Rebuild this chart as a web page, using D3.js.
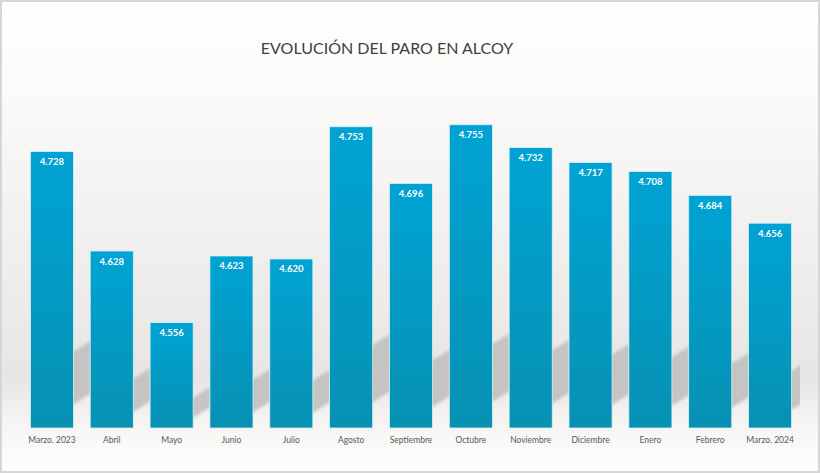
<!DOCTYPE html>
<html>
<head>
<meta charset="utf-8">
<script src="https://cdn.jsdelivr.net/npm/d3@7"></script>
<style>
  body { margin: 0; background: #fff; }
  svg { display: block; }
</style>
</head>
<body>
<div id="chart"></div>
<script>
// datos del paro en Alcoy
var months = ["Marzo. 2023", "Abril", "Mayo", "Junio", "Julio", "Agosto", "Septiembre",
  "Octubre", "Noviembre", "Diciembre", "Enero", "Febrero", "Marzo. 2024"];
var parados = [4728, 4628, 4556, 4623, 4620, 4753, 4696, 4755, 4732, 4717, 4708, 4684, 4656];
var yDomain = [4450, 4800];
var title = "EVOLUCIÓN DEL PARO EN ALCOY";

var width = 820;
var height = 473;
var base = 428;

var es = d3.formatLocale({ decimal: ",", thousands: ".", grouping: [3], currency: ["", "€"] });
var fmt = es.format(",d");

var svg = d3.select("#chart")
  .append("svg")
  .attr("width", width)
  .attr("height", height);

var defs = svg.append("defs");

// fondo
var bg = defs.append("linearGradient")
  .attr("id", "bg")
  .attr("x1", 0).attr("y1", 0).attr("x2", 0).attr("y2", 1);
bg.append("stop").attr("offset", "0%").attr("stop-color", "#ffffff");
bg.append("stop").attr("offset", "20%").attr("stop-color", "#fbfaf9");
bg.append("stop").attr("offset", "80%").attr("stop-color", "#e8e6e4");
bg.append("stop").attr("offset", "90%").attr("stop-color", "#f6f5f4");
bg.append("stop").attr("offset", "100%").attr("stop-color", "#fefefe");

var barGrad = defs.append("linearGradient")
  .attr("id", "barGrad")
  .attr("x1", 0).attr("y1", 0).attr("x2", 0).attr("y2", 1);
barGrad.append("stop").attr("offset", "0%").attr("stop-color", "#00a3d4");
barGrad.append("stop").attr("offset", "100%").attr("stop-color", "#0791b3");

var blur = defs.append("filter").attr("id", "blur")
  .attr("x", "-50%").attr("y", "-50%").attr("width", "200%").attr("height", "200%");
blur.append("feGaussianBlur").attr("stdDeviation", 1.6);

defs.append("clipPath").attr("id", "floor")
  .append("rect")
  .attr("x", 0).attr("y", 0)
  .attr("width", 800).attr("height", base);

svg.append("rect")
  .attr("x", 1).attr("y", 1)
  .attr("width", width - 2).attr("height", height - 2)
  .attr("fill", "url(#bg)")
  .attr("stroke", "#d6d6d6")
  .attr("stroke-width", 2);

var x = d3.scaleBand()
  .domain(months)
  .range([22, 800])
  .paddingInner(0.28)
  .paddingOuter(0.14);

var y = d3.scaleLinear()
  .domain(yDomain)
  .range([base, 80]);

var data = months.map(function(m, i) {
  return { name: m, value: parados[i] };
});

// sombras detras de las barras (banda inclinada en el hueco de la derecha)
svg.append("g")
  .attr("clip-path", "url(#floor)")
  .append("g")
  .attr("filter", "url(#blur)")
  .selectAll("path")
  .data(data)
  .enter()
  .append("path")
  .attr("fill", "#c6c4c2")
  .attr("d", function(d) {
    var x0 = x(d.name) + x.bandwidth() - 3;
    var h = base - y(d.value);
    var bot = base - 0.08 * h;
    var top = base - 0.27 * h;
    var sw = 21, rise = 13;
    return "M" + x0 + "," + bot +
      "L" + (x0 + sw) + "," + (bot - rise) +
      "L" + (x0 + sw) + "," + (top - rise) +
      "L" + x0 + "," + top + "Z";
  });

svg.append("g")
  .selectAll("rect")
  .data(data)
  .enter()
  .append("rect")
  .attr("x", d => x(d.name))
  .attr("y", d => y(d.value))
  .attr("width", x.bandwidth())
  .attr("height", d => base - y(d.value))
  .attr("fill", "url(#barGrad)")
  .attr("stroke", "#d9f1f8")
  .attr("stroke-width", 0.8);

// valores
svg.append("g")
  .selectAll("text")
  .data(data)
  .enter()
  .append("text")
  .attr("x", d => x(d.name) + x.bandwidth() / 2)
  .attr("y", d => y(d.value) + 13.5)
  .attr("text-anchor", "middle")
  .attr("fill", "#ffffff")
  .style("font-family", "Lato, 'DejaVu Sans', sans-serif")
  .style("font-weight", "bold")
  .style("font-size", "9.5px")
  .text(d => fmt(d.value));

// meses
var xAxis = svg.append("g")
  .attr("transform", "translate(0," + base + ")")
  .call(d3.axisBottom(x).tickSize(0).tickPadding(9));
xAxis.select(".domain").remove();
xAxis.selectAll("text")
  .attr("fill", "#595959")
  .style("font-family", "Lato, 'DejaVu Sans', sans-serif")
  .style("font-size", "8.5px");

svg.append("text")
  .attr("x", 387)
  .attr("y", 54)
  .attr("text-anchor", "middle")
  .attr("fill", "#404040")
  .style("font-family", "Lato, 'DejaVu Sans', sans-serif")
  .style("font-size", "16px")
  .text(title);
</script>
</body>
</html>
